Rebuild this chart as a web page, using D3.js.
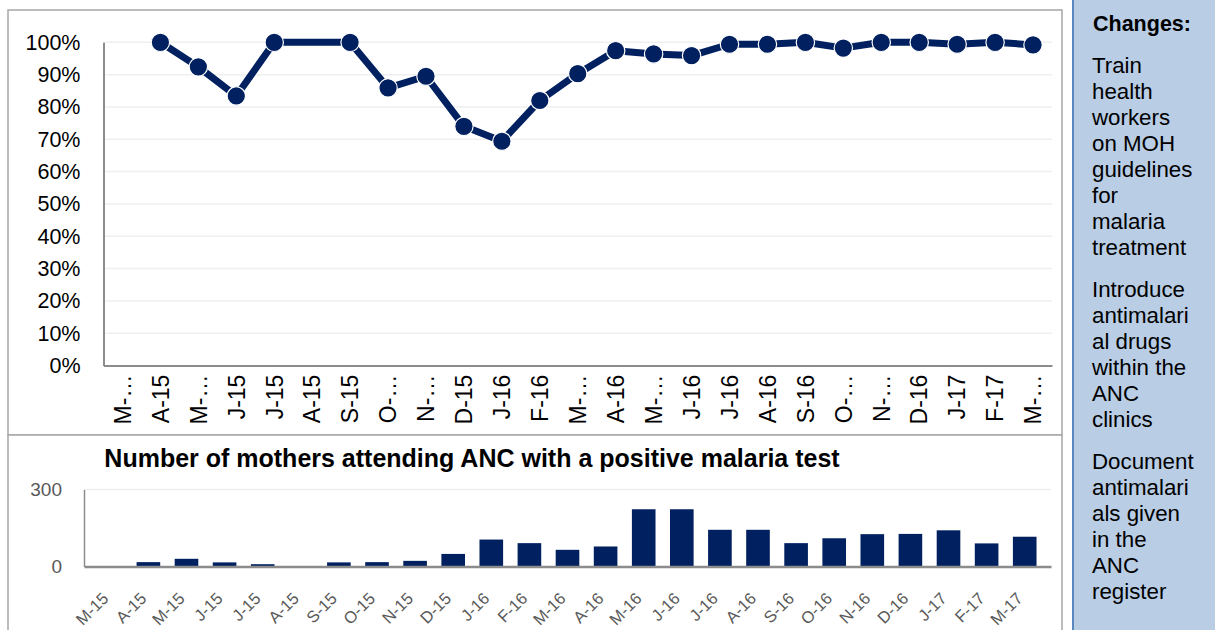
<!DOCTYPE html>
<html>
<head>
<meta charset="utf-8">
<script src="https://cdn.jsdelivr.net/npm/d3@7"></script>
<style>
  body { margin: 0; background: #fff; }
  svg { display: block; font-family: "Liberation Sans", Arial, sans-serif; }
</style>
</head>
<body>
<svg id="chart" width="1215" height="630"></svg>
<script>
// meses (etiquetas cortas tal como salen en el gráfico)
const months = ["M-15","A-15","M-15","J-15","J-15","A-15","S-15","O-15","N-15","D-15",
  "J-16","F-16","M-16","A-16","M-16","J-16","J-16","A-16","S-16","O-16","N-16","D-16",
  "J-17","F-17","M-17"];
// etiquetas del eje superior (Excel las recorta)
const topLabels = ["M-…","A-15","M-…","J-15","J-15","A-15","S-15","O-…","N-…","D-15",
  "J-16","F-16","M-…","A-16","M-…","J-16","J-16","A-16","S-16","O-…","N-…","D-16",
  "J-17","F-17","M-…"];
// % de madres tratadas (null = sin dato)
const pctTreated = [null,100,92.4,83.4,100,null,100,85.9,89.5,74.0,69.4,82.0,90.3,97.4,
  96.4,95.9,99.4,99.4,100,98.2,100,100,99.4,100,99.2];
// número de madres con test positivo
const positives = [0,17,30,16,9,0,16,17,22,49,105,91,65,78,223,223,143,143,91,110,126,127,141,90,116];
const pctTicks = [0,10,20,30,40,50,60,70,80,90,100];
const countTicks = [0,300];
const changes = [
  ["Train","health","workers","on MOH","guidelines","for","malaria","treatment"],
  ["Introduce","antimalari","al drugs","within the","ANC","clinics"],
  ["Document","antimalari","als given","in the","ANC","register"]
];

const navy = "#002060";
let svg = d3.select("#chart");

// marcos de los dos gráficos
svg.append("rect").attr("x", 8).attr("y", 10).attr("width", 1054).attr("height", 425)
    .attr("fill", "#fff").attr("stroke", "#a6a6a6").attr("stroke-width", 1.5);
svg.append("rect").attr("x", 8).attr("y", 435).attr("width", 1054).attr("height", 205)
    .attr("fill", "#fff").attr("stroke", "#a6a6a6").attr("stroke-width", 1.5);

// ---------- gráfico de línea ----------
let x1 = d3.scaleBand().domain(d3.range(months.length)).range([103.5, 1052]);
let y1 = d3.scaleLinear().domain([0, 100]).range([365.6, 42.3]);

svg.append("g").selectAll("line").data(pctTicks.slice(1)).join("line")
    .attr("x1", 103.5).attr("x2", 1052)
    .attr("y1", d => y1(d)).attr("y2", d => y1(d))
    .attr("stroke", "#efefef").attr("stroke-width", 1.5);

let yAxis1 = svg.append("g").attr("transform", "translate(103.5,0)")
    .call(d3.axisLeft(y1).tickValues(pctTicks).tickFormat(d => d + "%").tickSize(0).tickPadding(23));
yAxis1.select(".domain").attr("stroke", "#8c8c8c").attr("stroke-width", 2);
yAxis1.selectAll("text").attr("font-size", 21.5).attr("fill", "#000");

let xAxis1 = svg.append("g").attr("transform", "translate(0,365.6)")
    .call(d3.axisBottom(x1).tickFormat(i => topLabels[i]).tickSize(0));
xAxis1.select(".domain").attr("stroke", "#8c8c8c").attr("stroke-width", 2);
xAxis1.selectAll("text")
    .attr("font-size", 23).attr("fill", "#000")
    .attr("text-anchor", "end")
    .attr("transform", "rotate(-90)")
    .attr("x", -9).attr("y", 0).attr("dy", "0.36em");

let pts = pctTreated.map((v, i) => ({i: i, v: v})).filter(d => d.v !== null);
let line = d3.line().x(d => x1(d.i) + x1.bandwidth() / 2).y(d => y1(d.v));
svg.append("path").datum(pts).attr("d", line)
    .attr("fill", "none").attr("stroke", navy).attr("stroke-width", 7)
    .attr("stroke-linejoin", "round");
svg.append("g").selectAll("circle").data(pts).join("circle")
    .attr("cx", d => x1(d.i) + x1.bandwidth() / 2).attr("cy", d => y1(d.v))
    .attr("r", 9.2).attr("fill", navy).attr("stroke", "#fff").attr("stroke-width", 1.2);

// ---------- gráfico de barras ----------
let x2 = d3.scaleBand().domain(d3.range(months.length)).range([84, 1051]).padding(0.38);
let y2 = d3.scaleLinear().domain([0, 300]).range([566.5, 489.5]);

svg.append("text").attr("x", 472).attr("y", 467).attr("text-anchor", "middle")
    .attr("font-weight", "bold").attr("font-size", 25).attr("fill", "#000")
    .text("Number of mothers attending ANC with a positive malaria test");

svg.append("line").attr("x1", 84).attr("x2", 1051)
    .attr("y1", y2(300)).attr("y2", y2(300))
    .attr("stroke", "#efefef").attr("stroke-width", 1.5);

let yAxis2 = svg.append("g").attr("transform", "translate(84,0)")
    .call(d3.axisLeft(y2).tickValues(countTicks).tickSize(0).tickPadding(22));
yAxis2.select(".domain").attr("stroke", "#8c8c8c").attr("stroke-width", 1.5);
yAxis2.selectAll("text").attr("font-size", 19).attr("fill", "#595959");

svg.append("g").selectAll("rect").data(positives).join("rect")
    .attr("x", (d, i) => x2(i)).attr("width", x2.bandwidth())
    .attr("y", d => y2(d)).attr("height", d => y2(0) - y2(d))
    .attr("fill", navy);

let xAxis2 = svg.append("g").attr("transform", "translate(0,566.5)")
    .call(d3.axisBottom(x2).tickFormat(i => months[i]).tickSize(0));
xAxis2.select(".domain").attr("stroke", "#8c8c8c").attr("stroke-width", 2.5);
xAxis2.selectAll("text")
    .attr("font-size", 16.5).attr("fill", "#595959")
    .attr("text-anchor", "end")
    .attr("transform", "rotate(-45)")
    .attr("x", -24).attr("y", 17).attr("dy", "0.35em");

// ---------- panel de cambios ----------
svg.append("rect").attr("x", 1073).attr("y", -2).attr("width", 150).attr("height", 640)
    .attr("fill", "#b9cde5").attr("stroke", "#5b87c0").attr("stroke-width", 2);
svg.append("text").attr("x", 1093).attr("y", 31)
    .attr("font-weight", "bold").attr("font-size", 21.5).attr("fill", "#000").text("Changes:");

let yPos = 73;
changes.forEach(function(par) {
    par.forEach(function(t) {
        svg.append("text").attr("x", 1092).attr("y", yPos)
            .attr("font-size", 22.3).attr("fill", "#000").text(t);
        yPos += 26;
    });
    yPos += 16;
});
</script>
</body>
</html>
